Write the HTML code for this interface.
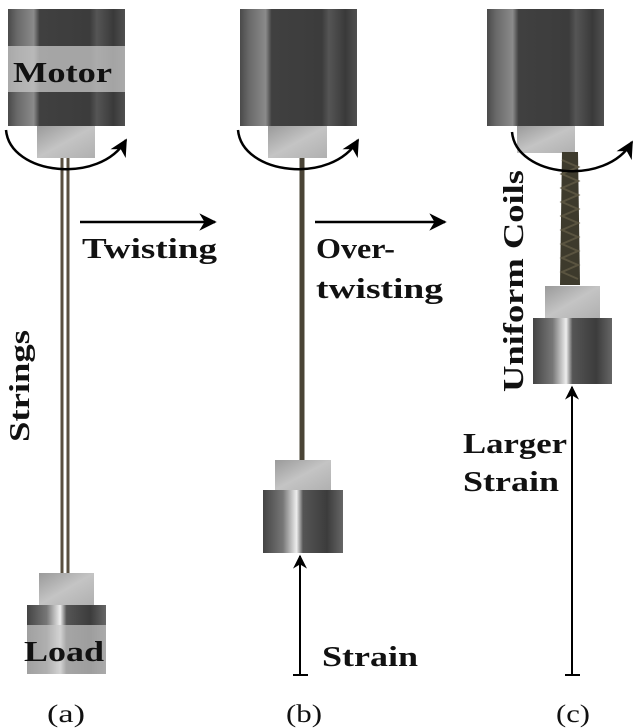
<!DOCTYPE html>
<html><head><meta charset="utf-8"><style>
body{margin:0;background:#fff}
svg{display:block}
text{font-family:"Liberation Serif",serif;font-weight:bold;font-size:29px;fill:#111}
</style></head><body>
<svg width="640" height="728" viewBox="0 0 640 728">
<defs>
<linearGradient id="mg" x1="0" x2="1">
<stop offset="0" stop-color="#4a4a4a"/><stop offset="0.08" stop-color="#6a6a6a"/><stop offset="0.22" stop-color="#8a8a8a"/><stop offset="0.27" stop-color="#404040"/><stop offset="0.7" stop-color="#3c3c3c"/><stop offset="0.76" stop-color="#555"/><stop offset="0.9" stop-color="#3a3a3a"/><stop offset="1" stop-color="#505050"/>
</linearGradient>
<linearGradient id="lg" x1="0" x2="1">
<stop offset="0" stop-color="#444"/><stop offset="0.25" stop-color="#777"/><stop offset="0.42" stop-color="#eee"/><stop offset="0.5" stop-color="#555"/><stop offset="0.8" stop-color="#3c3c3c"/><stop offset="1" stop-color="#666"/>
</linearGradient>
<linearGradient id="sg" x1="0" x2="1" y1="0" y2="1">
<stop offset="0" stop-color="#9a9a9a"/><stop offset="0.5" stop-color="#c4c4c4"/><stop offset="1" stop-color="#b0b0b0"/>
</linearGradient>
<marker id="ah" viewBox="0 0 10 10" refX="9" refY="5" markerWidth="7" markerHeight="7" orient="auto"><path d="M0,0 L10,5 L0,10 L3,5z" fill="#000"/></marker>
</defs>

<!-- (a) -->
<rect x="8" y="9" width="117" height="117" fill="url(#mg)"/>
<rect x="8" y="46" width="117" height="46" fill="#c8c8c8" opacity="0.75"/>
<text x="13" y="82" textLength="99" lengthAdjust="spacingAndGlyphs">Motor</text>
<rect x="37" y="126" width="58" height="32" fill="url(#sg)"/>
<line x1="62" y1="158" x2="62" y2="573" stroke="#5a5040" stroke-width="3"/>
<line x1="68" y1="158" x2="68" y2="573" stroke="#5a5040" stroke-width="3"/>
<path d="M6,130 C10,175 100,185 126,140" fill="none" stroke="#000" stroke-width="2.5" marker-end="url(#ah)"/>
<rect x="39" y="573" width="55" height="32" fill="url(#sg)"/>
<rect x="27" y="605" width="79" height="69" fill="url(#lg)"/>
<rect x="27" y="625" width="79" height="49" fill="#c8c8c8" opacity="0.7"/>
<text x="24" y="661" textLength="80" lengthAdjust="spacingAndGlyphs">Load</text>
<text x="47" y="722" style="font-size:25px;font-weight:normal" textLength="38" lengthAdjust="spacingAndGlyphs">(a)</text>
<text transform="translate(29,442) rotate(-90)" textLength="112" lengthAdjust="spacingAndGlyphs">Strings</text>

<line x1="80" y1="222" x2="215" y2="222" stroke="#000" stroke-width="2.5" marker-end="url(#ah)"/>
<text x="82" y="258" textLength="135" lengthAdjust="spacingAndGlyphs">Twisting</text>

<!-- (b) -->
<rect x="240" y="9" width="117" height="117" fill="url(#mg)"/>
<rect x="268" y="126" width="59" height="32" fill="url(#sg)"/>
<line x1="302" y1="158" x2="302" y2="460" stroke="#4a4436" stroke-width="5"/>
<path d="M238,130 C242,175 332,185 358,140" fill="none" stroke="#000" stroke-width="2.5" marker-end="url(#ah)"/>
<rect x="275" y="460" width="56" height="30" fill="url(#sg)"/>
<rect x="263" y="490" width="80" height="63" fill="url(#lg)"/>
<line x1="300" y1="675" x2="300" y2="556" stroke="#000" stroke-width="2" marker-end="url(#ah)"/>
<line x1="293" y1="675" x2="308" y2="675" stroke="#000" stroke-width="2"/>
<text x="322" y="666" textLength="96" lengthAdjust="spacingAndGlyphs">Strain</text>
<text x="286" y="722" style="font-size:25px;font-weight:normal" textLength="36" lengthAdjust="spacingAndGlyphs">(b)</text>

<line x1="315" y1="222" x2="445" y2="222" stroke="#000" stroke-width="2.5" marker-end="url(#ah)"/>
<text x="316" y="258" textLength="79" lengthAdjust="spacingAndGlyphs">Over-</text>
<text x="316" y="298" textLength="127" lengthAdjust="spacingAndGlyphs">twisting</text>

<!-- (c) -->
<rect x="487" y="9" width="117" height="117" fill="url(#mg)"/>
<rect x="517" y="126" width="58" height="27" fill="url(#sg)"/>
<path d="M562,152 L578,152 L580,285 L560,285 Z" fill="#3d3a2c"/>
<path d="M562,160 l16,7 l-16,7 l16,7 l-16,7 l16,7 l-16,7 l16,7 l-16,7 l16,7 l-16,7 l16,7 l-16,7 l16,7 l-16,7 l16,7 l-16,7 l16,7" fill="none" stroke="#5a5440" stroke-width="2"/>
<path d="M512,132 C516,177 606,187 632,142" fill="none" stroke="#000" stroke-width="2.5" marker-end="url(#ah)"/>
<rect x="545" y="286" width="55" height="32" fill="url(#sg)"/>
<rect x="533" y="318" width="79" height="66" fill="url(#lg)"/>
<line x1="572" y1="675" x2="572" y2="387" stroke="#000" stroke-width="2" marker-end="url(#ah)"/>
<line x1="565" y1="675" x2="580" y2="675" stroke="#000" stroke-width="2"/>
<text x="463" y="453" textLength="104" lengthAdjust="spacingAndGlyphs">Larger</text>
<text x="463" y="491" textLength="96" lengthAdjust="spacingAndGlyphs">Strain</text>
<text transform="translate(523,392) rotate(-90)" textLength="222" lengthAdjust="spacingAndGlyphs">Uniform Coils</text>
<text x="556" y="722" style="font-size:25px;font-weight:normal" textLength="34" lengthAdjust="spacingAndGlyphs">(c)</text>
</svg>
</body></html>
